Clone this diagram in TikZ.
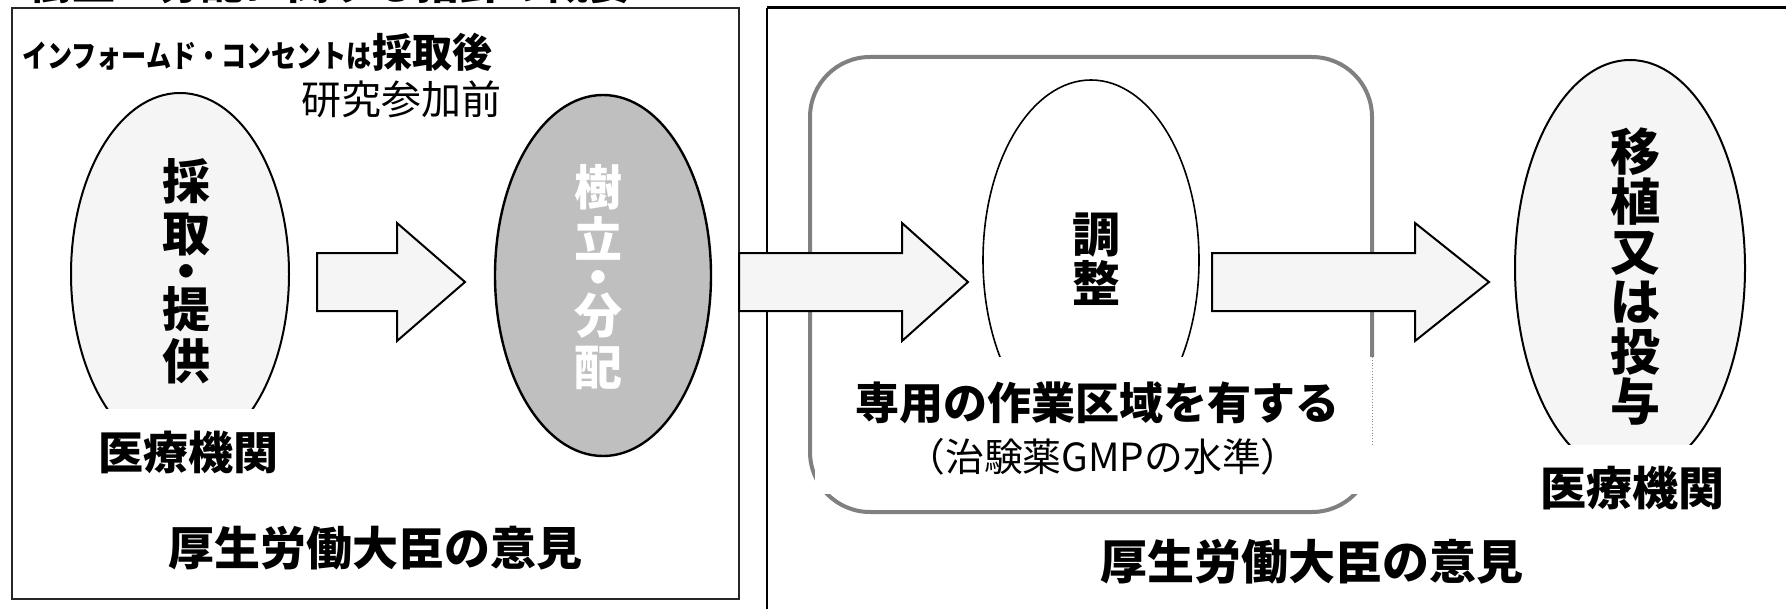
\documentclass[tikz,border=0pt]{standalone}
\usepackage{graphicx}
\usepackage{fontspec}
\newfontfamily\jp{Noto Sans CJK JP}
\usetikzlibrary{shapes.geometric,calc}
\newcommand\blockarr[3]{%
  \draw[barrow] let \p1=(#1), \p2=(#2) in
    (\x1,\y1+14.5pt) -- (\x2-#3,\y1+14.5pt) -- (\x2-#3,\y1+29.5pt) -- (\x2,\y1)
    -- (\x2-#3,\y1-29.5pt) -- (\x2-#3,\y1-14.5pt) -- (\x1,\y1-14.5pt) -- cycle;}
\begin{document}
\begin{tikzpicture}[x=0.5pt,y=-0.5pt,
  every node/.style={inner sep=0pt,outer sep=0pt},
  oval/.style={ellipse,draw=black,inner sep=0pt,outer sep=0pt},
  barrow/.style={draw=black,line width=1pt,fill=black!4,line join=miter},
  lbl/.style={font=\jp\bfseries\fontsize{#1}{#1}\selectfont},
  rlbl/.style={font=\jp\fontsize{#1}{#1}\selectfont},
  vstack/.style={align=center,font=\jp\bfseries\fontsize{24pt}{#1}\selectfont},
  frame/.style={draw=black!85,line width=1pt},
  rbox/.style={draw=black!50,line width=2pt,rounded corners=30pt}
]
\useasboundingbox (0,0) rectangle (1786,609);
\clip (0,0) rectangle (1786,609);
\fill[white] (0,0) rectangle (1786,609);

% title (cut off at top)
\node[lbl=21.5pt,anchor=base] (title) at (330,0) {樹立・分配に関する指針の概要};

% frames
\draw[frame] (12,8) rectangle (739,599);
\draw[black,line width=1.5pt] (1800,8) -- (767,8);
\draw[black,line width=1pt] (767,8) -- (767,620);

% info text
\node[anchor=base west,lbl=15.5pt] (ic) at (22,68)
  {\scalebox{0.81}[1]{インフォームド・コンセントは}{\fontsize{20pt}{20pt}\selectfont 採取後}};
\node[anchor=base east,rlbl=20pt] (pre) at (501,115) {研究参加前};

% left ellipse
\node[oval,line width=1pt,fill=black!4,minimum width=109pt,minimum height=181pt] (e1) at (180,274) {};
\fill[white] (60,409) rectangle (300,500);
\node[vstack=26pt] (t1) at (186,271) {採\\取\\[-7pt]・\\[-7pt]提\\供};
\node[lbl=22.5pt] (m1) at (188,452) {医療機関};
\node[lbl=23pt] (o1) at (375,548) {厚生労働大臣の意見};

% grey ellipse
\node[oval,line width=1.2pt,fill=black!25,minimum width=108pt,minimum height=180.5pt] (e2) at (603,275.5) {};
\node[vstack=26pt,text=white] (t2) at (598,277.5) {樹\\立\\[-7pt]・\\[-7pt]分\\配};

% rounded work area
\draw[rbox] (810,57) rectangle (1372,512);
\node[oval,line width=0.8pt,minimum width=108pt,minimum height=180pt] (e3) at (1091,260) {};
\fill[white] (815,357) rectangle (1380,494);
\draw[black!45,line width=0.4pt,densely dotted] (1372,357) -- (1372,446);
\node[vstack=24.5pt] (t3) at (1096,259) {調\\整};
\node[lbl=22pt] (w1) at (1097,403) {専用の作業区域を有する};
\node[rlbl=19.4pt] (w2) at (1103,457) {（治験薬GMPの水準）};
\node[lbl=23.5pt] (o2) at (1312,562) {厚生労働大臣の意見};

% right ellipse
\node[oval,line width=1pt,fill=black!4,minimum width=115pt,minimum height=208pt] (e4) at (1630,268) {};
\fill[white] (1490,445) rectangle (1775,530);
\node[align=center,font=\jp\bfseries\fontsize{25pt}{25pt}\selectfont] (t4) at (1635,277) {移\\植\\又\\は\\投\\与};
\node[lbl=23pt] (m2) at (1632,488) {医療機関};

% block arrows
\coordinate (a1s) at (317,282); \coordinate (a1t) at (465,282);
\coordinate (a2s) at (739,282); \coordinate (a2t) at (968,282);
\coordinate (a3s) at (1212,282); \coordinate (a3t) at (1489,282);
\blockarr{a1s}{a1t}{34pt}
\blockarr{a2s}{a2t}{33pt}
\blockarr{a3s}{a3t}{37pt}
\end{tikzpicture}
\end{document}
